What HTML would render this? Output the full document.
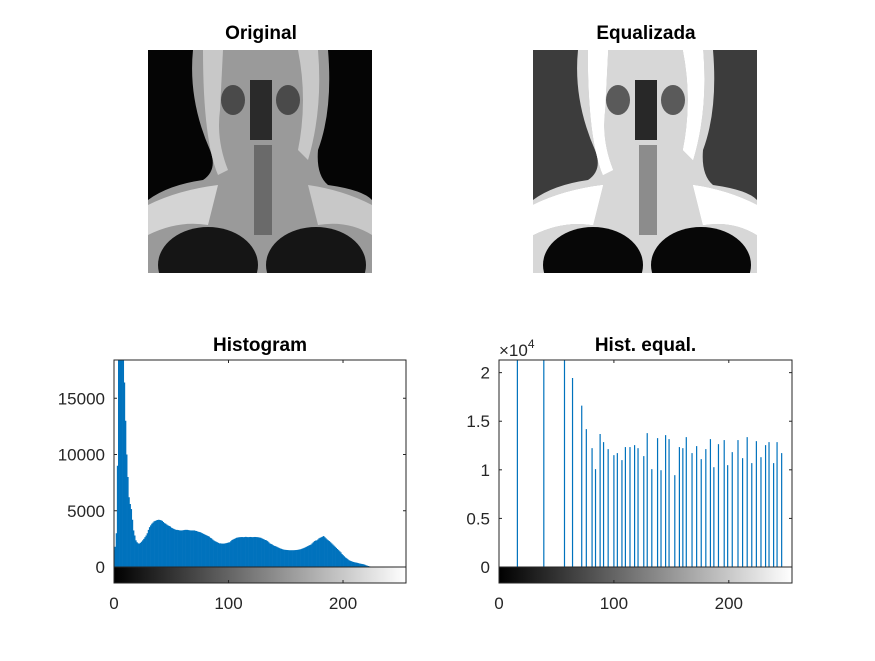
<!DOCTYPE html>
<html><head><meta charset="utf-8">
<style>
body{margin:0;background:#fff;font-family:"Liberation Sans",Arial,sans-serif;}
svg text{font-family:"Liberation Sans",Arial,sans-serif;}
</style></head>
<body>
<svg id="fig" width="875" height="656" viewBox="0 0 875 656" xmlns="http://www.w3.org/2000/svg">
<defs>
<linearGradient id="cbar" x1="0" x2="1" y1="0" y2="0"><stop offset="0" stop-color="#000"/><stop offset="1" stop-color="#fff"/></linearGradient>
<clipPath id="imgclip"><rect width="224" height="223"/></clipPath>
<g id="mri">
  <path d="M45,0 L180,0 Q185,60 170,100 Q168,125 180,135 Q215,140 224,150 L224,223 L0,223 L0,150 Q20,135 55,130 Q70,120 62,100 Q40,50 45,0 Z" fill="#9a9a9a"/>
  <path d="M55,0 L75,0 L72,60 Q68,90 80,120 L70,125 Q55,90 55,0Z" fill="#c8c8c8"/>
  <path d="M150,0 L170,0 Q175,60 160,110 L150,100 Q160,50 150,0Z" fill="#c8c8c8"/>
  <path d="M0,155 Q30,140 70,135 L60,175 Q30,170 0,185Z" fill="#d4d4d4"/>
  <path d="M224,155 Q195,140 160,135 L170,175 Q200,170 224,185Z" fill="#c8c8c8"/>
  <rect x="102" y="30" width="22" height="60" fill="#2a2a2a"/>
  <rect x="106" y="95" width="18" height="90" fill="#6a6a6a"/>
  <ellipse cx="60" cy="215" rx="50" ry="38" fill="#151515"/>
  <ellipse cx="168" cy="215" rx="50" ry="38" fill="#151515"/>
  <ellipse cx="85" cy="50" rx="12" ry="15" fill="#4a4a4a"/>
  <ellipse cx="140" cy="50" rx="12" ry="15" fill="#4a4a4a"/>
</g>
</defs>
<text x="261" y="39" text-anchor="middle" font-size="19" font-weight="bold">Original</text>
<g transform="translate(148,50)" clip-path="url(#imgclip)"><rect width="224" height="223" fill="#050505"/><use href="#mri"/></g>
<text x="646" y="39" text-anchor="middle" font-size="19" font-weight="bold">Equalizada</text>
<g transform="translate(533,50)" clip-path="url(#imgclip)"><rect width="224" height="223" fill="#3c3c3c"/><use href="#mri" style="filter:brightness(1.3) contrast(1.2)"/></g>
<g id="h1"></g>
<g id="h2"></g>
</svg>
<script>
const histCounts=[1500,1800,3000,9000,19000,22000,25000,21000,19000,16400,
13000,10000,8000,6200,5600,5150,4200,3250,2800,2370,
2200,2100,2080,2150,2250,2370,2500,2650,2800,3000,
3300,3540,3700,3850,3950,4060,4100,4150,4180,4200,
4180,4150,4100,4000,3900,3850,3770,3700,3650,3600,
3500,3450,3390,3350,3300,3300,3280,3260,3250,3250,
3260,3280,3300,3300,3300,3280,3260,3250,3250,3250,
3250,3220,3200,3150,3120,3100,3050,3000,2950,2900,
2850,2800,2750,2700,2600,2550,2450,2370,2300,2250,
2200,2150,2100,2100,2080,2080,2080,2100,2120,2150,
2180,2200,2300,2400,2450,2500,2550,2600,2620,2640,
2650,2660,2660,2650,2660,2680,2660,2650,2660,2670,
2660,2650,2660,2670,2660,2650,2640,2620,2600,2550,
2500,2450,2400,2370,2300,2200,2100,2050,2000,1930,
1880,1850,1800,1750,1700,1650,1620,1580,1550,1530,
1520,1510,1500,1490,1490,1490,1490,1490,1500,1510,
1520,1540,1560,1580,1620,1660,1700,1750,1800,1850,
1900,1950,2000,2100,2200,2300,2350,2370,2450,2550,
2600,2650,2700,2750,2650,2550,2450,2370,2300,2200,
2100,2000,1900,1800,1700,1600,1500,1400,1300,1150,
1050,950,850,780,700,610,560,520,480,450,
420,400,380,350,320,300,280,260,240,200,
150,120,90,60,40,20,10,0,0,0,
0,0,0,0,0,0,0,0,0,0,0,0,0,0,0,0,0,0,0,0,0,0,0,0,0,0];
const eqBins=[16,39,57,64,72,76,81,84,88,91,95,100,103,107,110,114,118,121,126,129,133,138,141,145,148,153,157,160,163,168,172,176,180,184,187,191,196,199,203,208,212,216,220,224,228,232,235,239,242,246,251,254];
const eqCounts=[30000,30000,30000,19450,16600,14190,12230,10070,13680,12850,12130,11510,11720,11000,12340,12340,12540,12230,11410,13780,10070,13260,9960,13570,13160,9450,12340,12230,13370,11720,12440,11100,12130,13160,10270,12640,13060,10480,11820,13060,11200,13370,10690,12950,11300,12540,12850,10690,12850,11720];
const ticks1=[0,5000,10000,15000];
const ticks1Labels=["0","5000","10000","15000"];
const ticks2=[0,5000,10000,15000,20000];
const ticks2Labels=["0","0.5","1","1.5","2"];
const xTicks=[0,100,200];
const xTickLabels=["0","100","200"];
const NS="http://www.w3.org/2000/svg";
function mk(p,tag,at){const e=document.createElementNS(NS,tag);for(const k in at)e.setAttribute(k,at[k]);p.appendChild(e);return e;}
function panel(g,L,R,T,B,ymax,title,yt,ytl,stem,xs,ys,exp){
  const sx=v=>L+(v/255)*(R-L), sy=v=>B-(v/ymax)*(B-T);
  const plot=mk(g,'g',{});
  
  
  const clipId='c'+L;
  const cp=mk(mk(g,'defs',{}),'clipPath',{id:clipId});mk(cp,'rect',{x:L,y:T,width:R-L,height:B-T});
  mk(plot,'rect',{x:L,y:T,width:R-L,height:B-T,fill:'#fff'});
  const marks=mk(plot,'g',{'clip-path':'url(#'+clipId+')'});
  const bw=(R-L)/255;
  xs.forEach((b,i)=>{
    const v=ys[i]; if(!v) return;
    let e;
    if(stem){e=mk(marks,'line',{x1:sx(b),x2:sx(b),y1:B,y2:sy(v),stroke:'#0072bd','stroke-width':1.2});}
    else{e=mk(marks,'rect',{x:sx(b)-bw/2,y:sy(v),width:bw+0.3,height:B-sy(v),fill:'#0072bd'});}
    
    
  });
  mk(plot,'rect',{x:L,y:T,width:R-L,height:B-T,fill:'none',stroke:'#262626','stroke-width':1});
  yt.forEach((t,i)=>{const y=sy(t);
    mk(plot,'line',{x1:L,x2:L+3,y1:y,y2:y,stroke:'#262626'});
    mk(plot,'line',{x1:R,x2:R-3,y1:y,y2:y,stroke:'#262626'});
    const tx=mk(plot,'text',{x:L-9,y:y+6,'text-anchor':'end','font-size':17,fill:'#262626'});tx.textContent=ytl[i];
    
    
  });
  const cb=mk(plot,'rect',{x:L,y:B,width:R-L,height:16,fill:'url(#cbar)',stroke:'#262626'});
  
  
  xTicks.forEach((t,i)=>{const x=sx(t);
    mk(plot,'line',{x1:x,x2:x,y1:T,y2:T+3,stroke:'#262626'});
    mk(plot,'line',{x1:x,x2:x,y1:B+16,y2:B+13,stroke:'#262626'});
    const tx=mk(plot,'text',{x:x,y:B+42,'text-anchor':'middle','font-size':17,fill:'#262626'});tx.textContent=xTickLabels[i];
    
    
  });
  const tt=mk(plot,'text',{x:(L+R)/2,y:T-9,'text-anchor':'middle','font-size':19,'font-weight':'bold'});tt.textContent=title;
  
  
  if(exp){const ex=mk(plot,'text',{x:L,y:T-4,'font-size':17,fill:'#262626'});
    ex.innerHTML='×10<tspan dy="-8" font-size="12">4</tspan>';
    
    }
}
const bins=histCounts.map((_,i)=>i);
panel(document.getElementById('h1'),114,406,360,567,18400,'Histogram',ticks1,ticks1Labels,false,bins,histCounts,false);
panel(document.getElementById('h2'),499,792,360,567,21300,'Hist. equal.',ticks2,ticks2Labels,true,eqBins,eqCounts,true);
</script>
</body></html>
